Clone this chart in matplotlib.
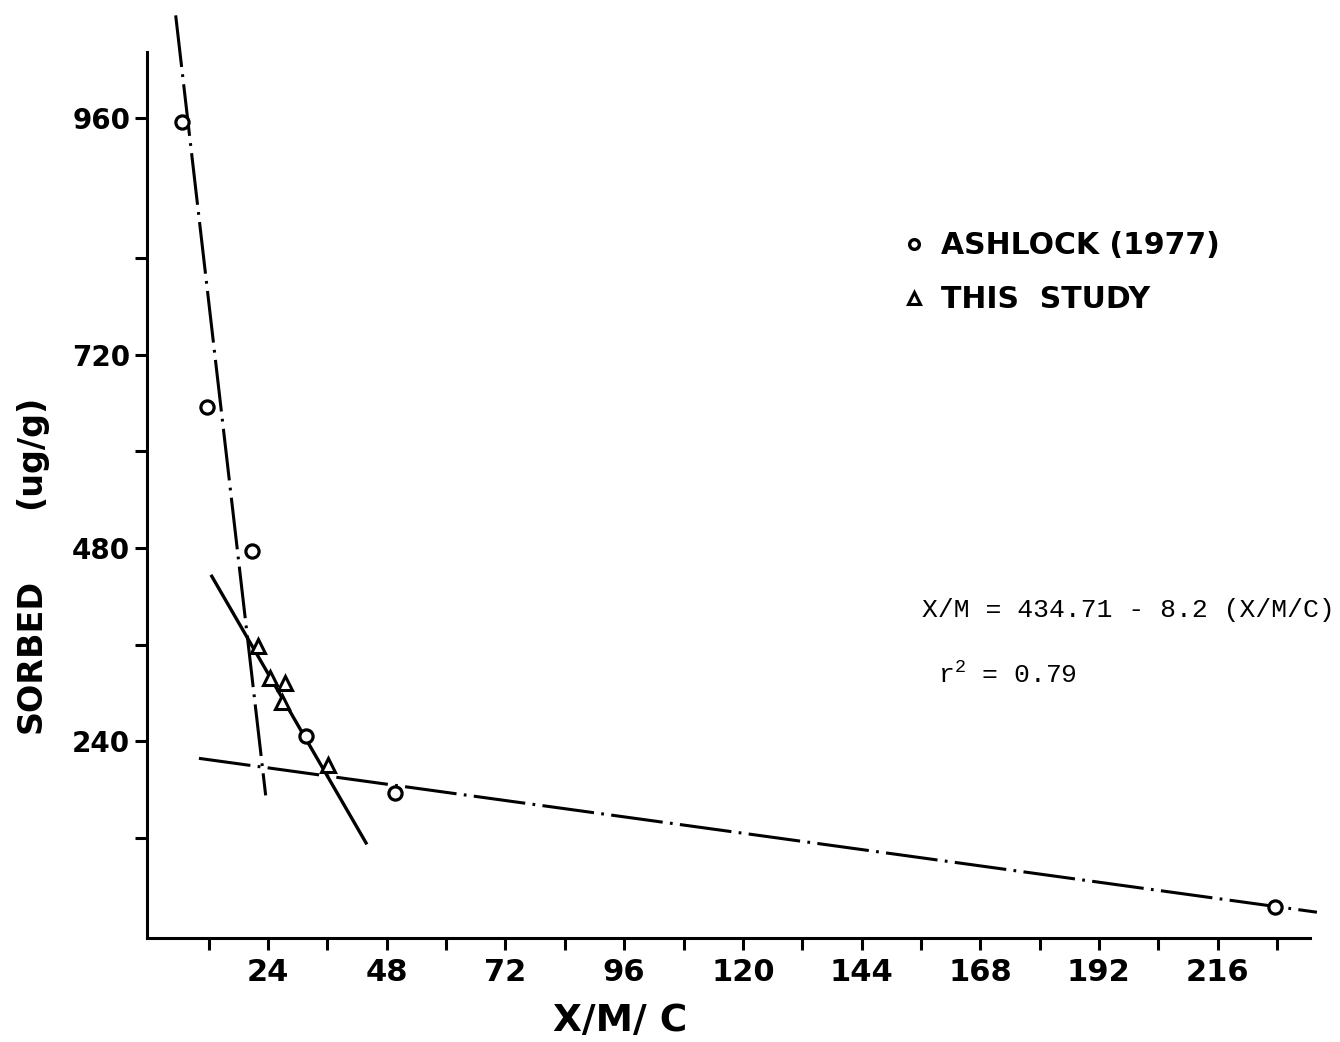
import numpy as np
import matplotlib.pyplot as plt
from matplotlib.lines import Line2D


# ==========================
# Data
# ==========================

ashlock_x = [6.5, 11.6, 20.7, 31.6, 49.6, 227.6]
ashlock_y = [957, 655, 476, 247, 176, 34]

study_x = [21.9, 24.3, 27.4, 26.8, 36.1]
study_y = [358, 319, 313, 289, 211]

# fitted lines, end points
steep_x = [5.3, 23.5]
steep_y = [1048, 173]

study_fit_x = [12.6, 43.8]
study_fit_y = [445, 114]

flat_x = [10.0, 236.1]
flat_y = [219, 28]

x_ticks = list(range(12, 229, 12))
x_labels = [str(v) if v % 24 == 0 and v <= 216 else "" for v in x_ticks]

y_ticks = list(range(120, 961, 120))
y_labels = [str(v) if v % 240 == 0 else "" for v in y_ticks]

legend_labels = ["ASHLOCK (1977)", "THIS  STUDY"]
equation = "X/M = 434.71 - 8.2 (X/M/C)"
r2_text = r"$\mathrm{r}^{2}$ = 0.79"


# ==========================
# Style
# ==========================

plt.rcParams["mathtext.fontset"] = "custom"
plt.rcParams["mathtext.rm"] = "Liberation Mono"

LETTER = {"family": "DejaVu Sans", "weight": "bold"}
LW = 2.2
DASHDOT = (0, (17, 2.4, 0.9, 2.4))

W, H = 1340, 1042

fig = plt.figure(figsize=(W / 100, H / 100), dpi=100)
ax = fig.add_axes([147 / W, 104 / H, 1163 / W, 886 / H])


# the hand drawn y axis is stretched above 840
K = 1.448


def fwd(y):
    y = np.asarray(y, dtype=float)
    return np.where(y <= 840, y, 840 + (y - 840) * K)


def inv(t):
    t = np.asarray(t, dtype=float)
    return np.where(t <= 840, t, 840 + (t - 840) / K)


ax.set_yscale("function", functions=(fwd, inv))


# ==========================
# Lines and points
# ==========================

ax.plot(steep_x, steep_y, color="black", lw=LW, linestyle=DASHDOT,
        clip_on=False, zorder=2)

ax.plot(flat_x, flat_y, color="black", lw=LW, linestyle=DASHDOT,
        clip_on=False, zorder=2)

ax.plot(study_fit_x, study_fit_y, color="black", lw=2.4, clip_on=False,
        zorder=2)

ax.plot(ashlock_x, ashlock_y, ls="none", marker="o", ms=9.5,
        mfc="white", mec="black", mew=2.3, clip_on=False, zorder=3)

ax.plot(study_x, study_y, ls="none", marker="^", ms=10.5,
        mfc="white", mec="black", mew=2.2, clip_on=False, zorder=3)


# ==========================
# Axes
# ==========================

ax.set_xlim(-0.5, 234.7)
ax.set_ylim(-4, 1016.6)

ax.spines["top"].set_visible(False)
ax.spines["right"].set_visible(False)
ax.spines["left"].set_linewidth(LW)
ax.spines["bottom"].set_linewidth(LW)

ax.set_xticks(x_ticks, x_labels, fontsize=22, **LETTER)
ax.set_yticks(y_ticks, y_labels, fontsize=20, **LETTER)
ax.minorticks_off()

ax.tick_params(axis="x", length=8.6, width=LW, direction="out", pad=6)
ax.tick_params(axis="y", length=8.6, width=LW, direction="out", pad=3.5)

fig.text(620 / W, 1 - 1021 / H, "X/M/ C", fontsize=27,
         ha="center", va="center", **LETTER)

fig.text(31 / W, 1 - 452 / H, "(ug/g)", fontsize=24, rotation=90,
         ha="center", va="center", **LETTER)
fig.text(31 / W, 1 - 656 / H, "SORBED", fontsize=24, rotation=90,
         ha="center", va="center", **LETTER)


# ==========================
# Legend and fit text
# ==========================

handles = [
    Line2D([], [], ls="none", marker="o", ms=7, mfc="white",
           mec="black", mew=2.4),
    Line2D([], [], ls="none", marker="^", ms=8, mfc="white",
           mec="black", mew=2.2),
]

ax.legend(handles, legend_labels, loc="upper left",
          bbox_to_anchor=(902 / W, 1 - 231 / H),
          bbox_transform=fig.transFigure, frameon=False,
          prop={"family": "DejaVu Sans", "weight": "bold", "size": 21.5},
          handlelength=0.8, handletextpad=0.5, labelspacing=0.85,
          borderpad=0, borderaxespad=0)

fig.text(922 / W, 1 - 617 / H, equation, family="Liberation Mono",
         fontsize=19, va="baseline")
fig.text(938 / W, 1 - 683 / H, r2_text, family="Liberation Mono",
         fontsize=19, va="baseline")


fig.savefig("out.png", dpi=100, facecolor="white")
